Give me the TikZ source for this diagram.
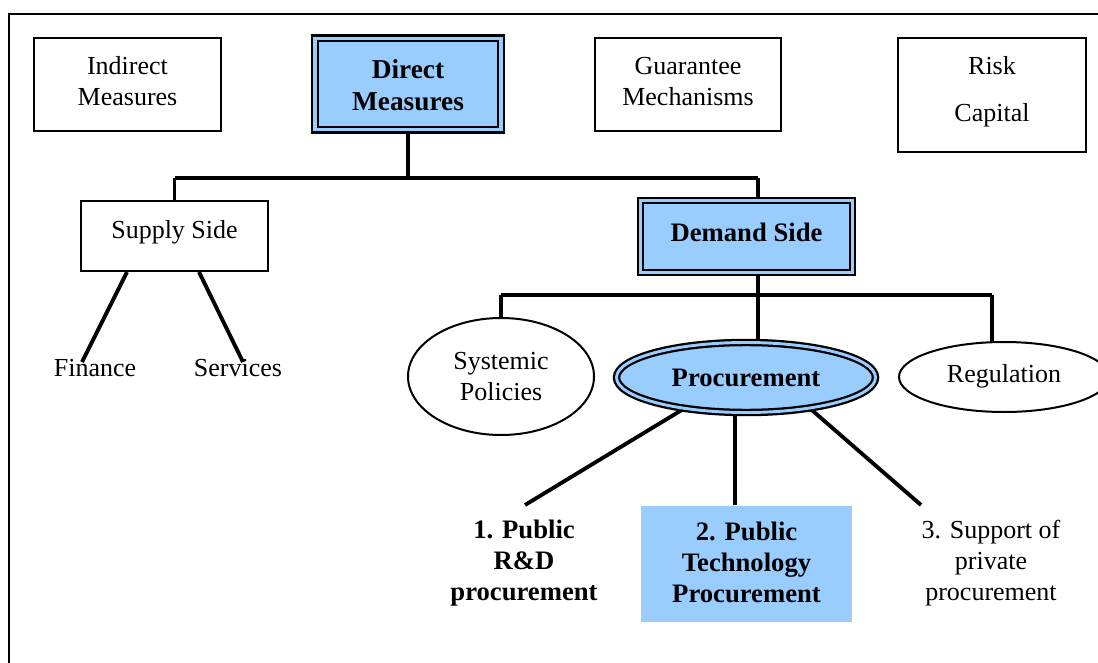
\documentclass[tikz,border=0pt]{standalone}
\usepackage{fontspec}
\setmainfont{Liberation Serif}
\usetikzlibrary{shapes.geometric,calc}
\definecolor{paleblue}{HTML}{99CCFF}
\def\px{0.75pt}
\begin{document}
\begin{tikzpicture}[x=0.75pt,y=-0.75pt,
  every node/.style={font=\fontsize{19.5}{23.25}\selectfont, align=center, inner sep=0pt},
  plainbox/.style={draw, line width=1.5pt, fill=white, rectangle},
  keybox/.style={draw, line width=1.7pt, double=paleblue, double distance=2.5pt, fill=paleblue, rectangle},
  plainoval/.style={draw, line width=1.5pt, fill=white, ellipse},
  keyoval/.style={draw, line width=1.7pt, double=paleblue, double distance=2.2pt, fill=paleblue, ellipse},
  conn/.style={line width=2.9pt},
  label/.style={},
  boldlabel/.style={font=\fontsize{20}{23.25}\selectfont\bfseries},
  bigbold/.style={font=\fontsize{20.5}{24}\selectfont\bfseries}
]
\useasboundingbox (0,0) rectangle (1098,663);
% outer frame
\draw[line width=1.6pt] (9,14) rectangle (1120,690);

% branch points of the connector buses
\coordinate (busL) at (174.5,178);
\coordinate (busR) at (758,178);
\coordinate (bus2L) at (501,295);
\coordinate (bus2M) at (758,295);
\coordinate (bus2R) at (992,295);
\coordinate (finEnd) at (82,362);
\coordinate (svEnd) at (243,362);
\coordinate (p1End) at (525,505);
\coordinate (p2End) at (735,505);
\coordinate (p3End) at (921,505);

% top row
\node[plainbox, minimum width=187*\px, minimum height=93*\px] (im) at (127.5,84.5) {};
\node (imtext) at ($(im.center)+(0,-3)$) {Indirect\\Measures};
\node[keybox, minimum width=186*\px, minimum height=91.5*\px] (dm) at (408,84) {};
\node[bigbold] (dmtext) at ($(dm.center)+(0,1)$) {Direct\\Measures};
\node[plainbox, minimum width=186*\px, minimum height=93*\px] (gm) at (688,84.5) {};
\node (gmtext) at ($(gm.center)+(0,-3)$) {Guarantee\\Mechanisms};
\node[plainbox, minimum width=188*\px, minimum height=114*\px] (rc) at (992,95) {};
\node (rctext) at ($(rc.center)+(0,-3)$) {Risk\\[12pt]Capital};

% second row
\node[plainbox, minimum width=187*\px, minimum height=70*\px] (ss) at (174.5,236) {};
\node (sstext) at ($(ss.center)+(0,-4)$) {Supply Side};
\node[keybox, minimum width=212*\px, minimum height=72*\px] (ds) at (746.5,236.5) {};
\node[boldlabel] (dstext) at ($(ds.center)+(0,-4)$) {Demand Side};

% connectors under Direct Measures
\draw[conn] (dm.south) -- (dm.south |- busL);
\draw[conn] (busL) -- (busR);
\draw[conn] (busL) -- (ss.north);
\draw[conn] (busR) -- (busR |- ds.north);

% supply side branches
\draw[conn] ($(ss.south)+(-47.5,0)$) -- (finEnd);
\draw[conn] ($(ss.south)+(24.5,0)$) -- (svEnd);

% demand side bus
\draw[conn] (bus2M |- ds.south) -- (bus2M);
\draw[conn] (bus2L) -- (bus2R);
\draw[conn] (bus2L) -- (501,330);
\draw[conn] (bus2M) -- (758,350);
\draw[conn] (bus2R) -- (992,350);

% procurement branches
\draw[conn] (690,405) -- (p1End);
\draw[conn] (735,405) -- (p2End);
\draw[conn] (806,405) -- (p3End);

% third row
\node[plainoval, minimum width=186*\px, minimum height=117*\px] (sp) at (501,376.5) {Systemic\\Policies};
\node[keyoval, minimum width=259*\px, minimum height=70*\px] (pr) at (746,377.5) {};
\node[boldlabel] (prtext) at ($(pr.center)+(0,0)$) {Procurement};
\node[plainoval, minimum width=210*\px, minimum height=70*\px] (rg) at (1004,377) {};
\node (rgtext) at ($(rg.center)+(0,-1)$) {Regulation};

\node[label] (fin) at (95,368) {Finance};
\node[label] (sv) at (238,368) {Services};

% procurement kinds
\node[boldlabel] (p1) at (524,563) {1. Public\\R\&D\\procurement};
\node[fill=paleblue, minimum width=211*\px, minimum height=116*\px] (p2box) at (746.5,564) {};
\node[boldlabel] (p2) at (746.5,562) {2. Public\\Technology\\Procurement};
\node[label] (p3) at (991,563) {3. Support of\\private\\procurement};
\end{tikzpicture}
\end{document}
